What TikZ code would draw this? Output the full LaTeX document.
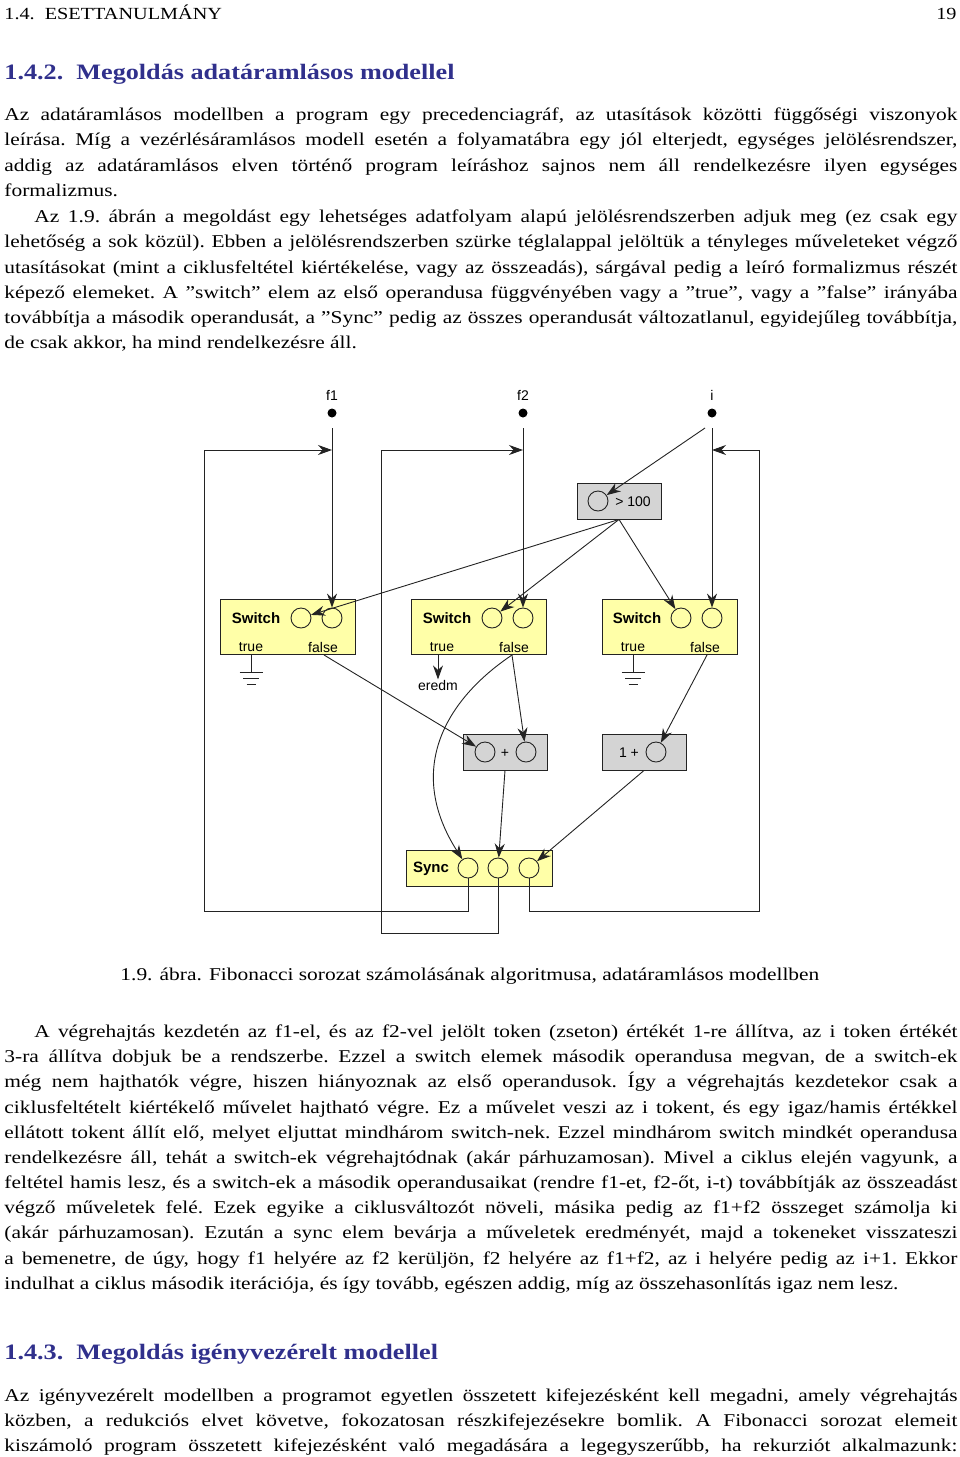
\documentclass[tikz,border=0pt]{standalone}
\usepackage{fontspec}
\setmainfont{Liberation Serif}[FakeStretch=1.19]
\setsansfont{Liberation Sans}
\usetikzlibrary{arrows.meta}
\definecolor{headblue}{RGB}{48,48,140}
\definecolor{swyellow}{RGB}{255,255,168}
\definecolor{opgray}{RGB}{212,212,212}
\definecolor{ink}{RGB}{35,35,35}

\tikzset{every picture/.style={line width=0.9pt}}
\tikzset{
  txt/.style={anchor=base west,inner sep=0pt,font=\fontsize{18}{20}\selectfont},
  jtxt/.style={txt},
  swbox/.style={draw=ink,fill=swyellow,minimum width=135pt,minimum height=55pt,inner sep=0pt},
  opbox/.style={draw=ink,fill=opgray,minimum width=84pt,minimum height=36pt,inner sep=0pt},
  port/.style={draw=ink,circle,minimum size=20pt,inner sep=0pt},
  dot/.style={fill=black,circle,minimum size=9pt,inner sep=0pt},
  lbl/.style={inner sep=0pt,font=\sffamily\fontsize{14}{16}\selectfont},
  blbl/.style={inner sep=0pt,font=\sffamily\bfseries\fontsize{15}{17}\selectfont},
  arr/.style={draw=ink,-{Stealth[length=14pt,width=10pt]}},
  wire/.style={draw=ink},
}
\newcommand\qq{\symbol{34}}
% justified line of text: name, x, baseline y, width, text
\newcommand\jline[5]{\node[jtxt] (#1) at (#2,#3) {\frenchspacing\makebox[#4pt][s]{#5}};}
\newcommand\pline[4]{\node[txt] (#1) at (#2,#3) {\frenchspacing #4};}

\begin{document}
\begin{tikzpicture}[x=1pt,y=-1pt]
\useasboundingbox (0,0) rectangle (960,1457);

%header
\node[txt,font=\fontsize{17}{19}\selectfont] (hd) at (4,19) {1.4.\ \ ESETTANULMÁNY};
\node[txt,anchor=base east,font=\fontsize{17}{19}\selectfont] (pg) at (957,19) {19};
\node[txt,font=\bfseries\fontsize{22}{26}\selectfont,text=headblue] (sec1) at (4,79) {1.4.2.\ \ Megoldás adatáramlásos modellel};

%paragraph 1
\jline{a1}{4}{120}{953}{Az adatáramlásos modellben a program egy precedenciagráf, az utasítások közötti függőségi viszonyok}
\jline{a2}{4}{145}{953}{leírása. Míg a vezérlésáramlásos modell esetén a folyamatábra egy jól elterjedt, egységes jelölésrendszer,}
\jline{a3}{4}{171}{953}{addig az adatáramlásos elven történő program leíráshoz sajnos nem áll rendelkezésre ilyen egységes}
\pline{a4}{4}{196}{formalizmus.}
\jline{a5}{34}{222}{923}{Az 1.9. ábrán a megoldást egy lehetséges adatfolyam alapú jelölésrendszerben adjuk meg (ez csak egy}
\jline{a6}{4}{247}{953}{lehetőség a sok közül). Ebben a jelölésrendszerben szürke téglalappal jelöltük a tényleges műveleteket végző}
\jline{a7}{4}{273}{953}{utasításokat (mint a ciklusfeltétel kiértékelése, vagy az összeadás), sárgával pedig a leíró formalizmus részét}
\jline{a8}{4}{298}{953}{képező elemeket. A \qq switch\qq{} elem az első operandusa függvényében vagy a \qq true\qq, vagy a \qq false\qq{} irányába}
\jline{a9}{4}{323}{953}{továbbítja a második operandusát, a \qq Sync\qq{} pedig az összes operandusát változatlanul, egyidejűleg továbbítja,}
\pline{a10}{4}{348}{de csak akkor, ha mind rendelkezésre áll.}

%Diagram: inputs
\node[lbl] (f1l) at (332,395) {f1};
\node[lbl] (f2l) at (523,395) {f2};
\node[lbl] (il) at (712,395) {i};
\node[dot] (f1) at (332,413) {};
\node[dot] (f2) at (523,413) {};
\node[dot] (i) at (712,413) {};
\coordinate (f1t) at (332,428);
\coordinate (f2t) at (523,428);
\coordinate (it) at (712,428);
\coordinate (id) at (705,428);
\coordinate (j1) at (332,450);
\coordinate (j2) at (523,450);
\coordinate (j3) at (712,450);

%compare
\node[opbox] (gt) at (619,501) {};
\node[port] (g1) at (598,501) {};
\node[lbl] (gtl) at (633,502) {> 100};

%switches
\node[swbox] (sw1) at (288,627) {};
\node[swbox] (sw2) at (479,627) {};
\node[swbox] (sw3) at (670,627) {};
\foreach \n/\cx in {1/256,2/447,3/637}{
  \node[blbl] (swl\n) at (\cx,618) {Switch};
}
\node[port] (s1a) at (301,618) {};
\node[port] (s1b) at (332,618) {};
\node[port] (s2a) at (492,618) {};
\node[port] (s2b) at (523,618) {};
\node[port] (s3a) at (681,618) {};
\node[port] (s3b) at (712,618) {};
\node[lbl] (t1) at (251,647) {true};
\node[lbl] (e1) at (323,647) {false};
\node[lbl] (t2) at (442,647) {true};
\node[lbl] (e2) at (514,647) {false};
\node[lbl] (t3) at (633,647) {true};
\node[lbl] (e3) at (705,647) {false};
\coordinate (o1) at (324,655);
\coordinate (o2) at (512,655);
\coordinate (o3) at (707,655);

%grounds
\foreach \gx in {251,633}{
  \draw[wire] (\gx,655) -- (\gx,672);
  \draw[wire] (\gx-11.5,672) -- (\gx+11.5,672);
  \draw[wire] (\gx-8,678) -- (\gx+8,678);
  \draw[wire] (\gx-4.5,684) -- (\gx+4.5,684);
}
\node[lbl] (er) at (438,685) {eredm};
\draw[arr] (438,655) -- (er.north);

%operations
\node[opbox] (add) at (505,752) {};
\node[port] (p1) at (485,752) {};
\node[port] (p2) at (526,752) {};
\node[lbl] (pl) at (505,753) {+};
\node[opbox] (inc) at (644,752) {};
\node[port] (q1) at (656,752) {};
\node[lbl] (ql) at (629,753) {1 +};

%sync
\node[swbox,minimum width=146pt,minimum height=36pt] (sy) at (479,868) {};
\node[blbl] (syl) at (431,869) {Sync};
\node[port] (y1) at (468,868) {};
\node[port] (y2) at (498,868) {};
\node[port] (y3) at (529,868) {};

%connections
\draw[arr] (f1t) -- (s1b);
\draw[arr] (f2t) -- (s2b);
\draw[arr] (it) -- (s3b);
\draw[arr] (id) -- (g1);
\draw[arr] (gt.south) -- (s1a);
\draw[arr] (gt.south) -- (s2a);
\draw[arr] (gt.south) -- (s3a);
\draw[arr] (o1) -- (p1);
\draw[arr] (o2) -- (p2);
\draw[arr] (o3) -- (q1);
\draw[arr] (o2) .. controls (445,700) and (405,770) .. (y1);
\draw[arr] (add.south) -- (y2);
\draw[arr] (inc.south) -- (y3);
\draw[arr] (y1.south) |- (204,911) |- (j1);
\draw[arr] (y2.south) |- (381,933) |- (j2);
\draw[arr] (y3.south) |- (759,911) |- (j3);

%caption
\node[txt] (cap) at (120,980) {1.9. ábra. Fibonacci sorozat számolásának algoritmusa, adatáramlásos modellben};

%paragraph 2
\jline{b1}{34}{1037}{923}{A végrehajtás kezdetén az f1-el, és az f2-vel jelölt token (zseton) értékét 1-re állítva, az i token értékét}
\jline{b2}{4}{1062}{953}{3-ra állítva dobjuk be a rendszerbe. Ezzel a switch elemek második operandusa megvan, de a switch-ek}
\jline{b3}{4}{1087}{953}{még nem hajthatók végre, hiszen hiányoznak az első operandusok. Így a végrehajtás kezdetekor csak a}
\jline{b4}{4}{1113}{953}{ciklusfeltételt kiértékelő művelet hajtható végre. Ez a művelet veszi az i tokent, és egy igaz/hamis értékkel}
\jline{b5}{4}{1138}{953}{ellátott tokent állít elő, melyet eljuttat mindhárom switch-nek. Ezzel mindhárom switch mindkét operandusa}
\jline{b6}{4}{1163}{953}{rendelkezésre áll, tehát a switch-ek végrehajtódnak (akár párhuzamosan). Mivel a ciklus elején vagyunk, a}
\jline{b7}{4}{1188}{953}{feltétel hamis lesz, és a switch-ek a második operandusaikat (rendre f1-et, f2-őt, i-t) továbbítják az összeadást}
\jline{b8}{4}{1213}{953}{végző műveletek felé. Ezek egyike a ciklusváltozót növeli, másika pedig az f1+f2 összeget számolja ki}
\jline{b9}{4}{1238}{953}{(akár párhuzamosan). Ezután a sync elem bevárja a műveletek eredményét, majd a tokeneket visszateszi}
\jline{b10}{4}{1264}{953}{a bemenetre, de úgy, hogy f1 helyére az f2 kerüljön, f2 helyére az f1+f2, az i helyére pedig az i+1. Ekkor}
\pline{b11}{4}{1289}{indulhat a ciklus második iterációja, és így tovább, egészen addig, míg az összehasonlítás igaz nem lesz.}

\node[txt,font=\bfseries\fontsize{22}{26}\selectfont,text=headblue] (sec2) at (4,1359) {1.4.3.\ \ Megoldás igényvezérelt modellel};

%paragraph 3
\jline{c1}{4}{1401}{953}{Az igényvezérelt modellben a programot egyetlen összetett kifejezésként kell megadni, amely végrehajtás}
\jline{c2}{4}{1426}{953}{közben, a redukciós elvet követve, fokozatosan részkifejezésekre bomlik. A Fibonacci sorozat elemeit}
\jline{c3}{4}{1451}{953}{kiszámoló program összetett kifejezésként való megadására a legegyszerűbb, ha rekurziót alkalmazunk:}
\end{tikzpicture}
\end{document}
